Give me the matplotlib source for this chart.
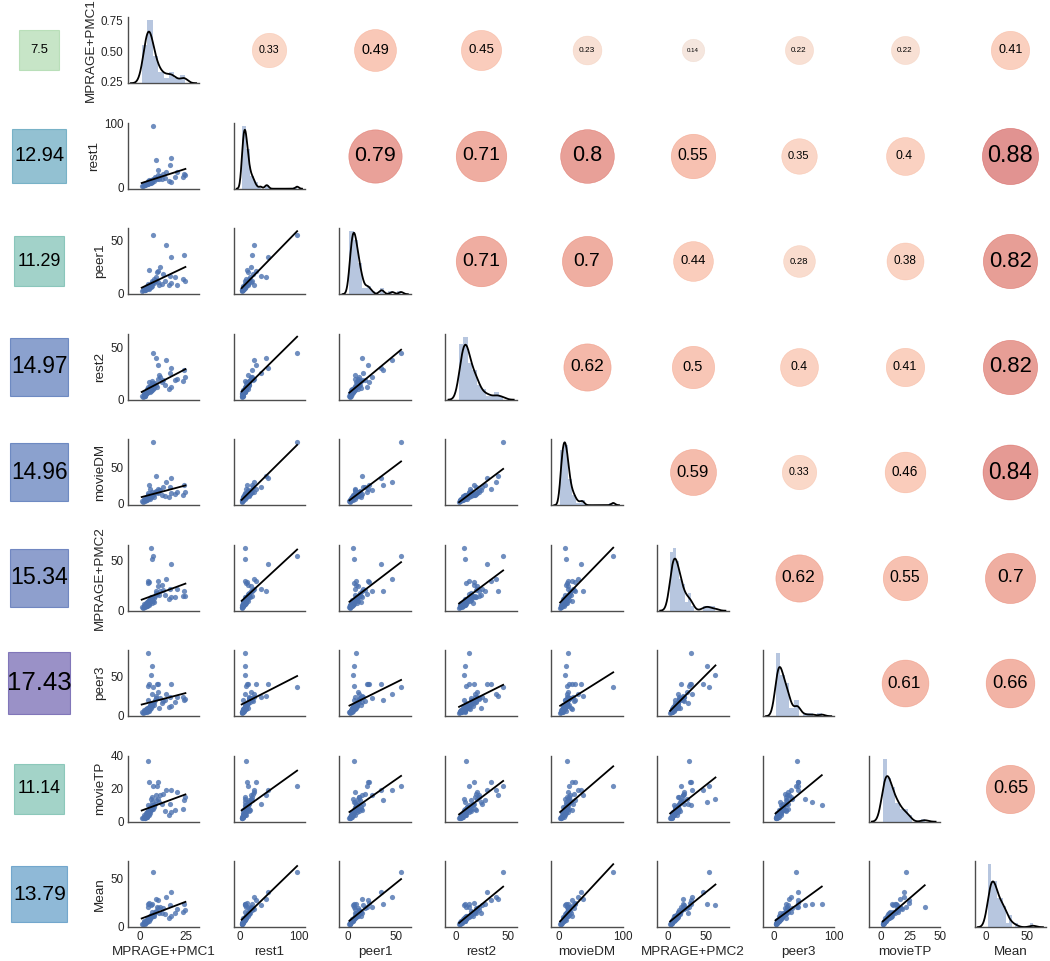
import numpy as np
import matplotlib
matplotlib.use("Agg")
import matplotlib.pyplot as plt
from matplotlib.colors import LinearSegmentedColormap

plt.rcParams['font.family'] = ['Liberation Sans', 'DejaVu Sans']
plt.rcParams['text.color'] = '0.15'
plt.rcParams['axes.labelcolor'] = '0.15'
plt.rcParams['xtick.color'] = '0.15'
plt.rcParams['ytick.color'] = '0.15'

names = ["MPRAGE+PMC1", "rest1", "peer1", "rest2", "movieDM",
         "MPRAGE+PMC2", "peer3", "movieTP", "Mean"]

# one value per subject
mprage_pmc1 = [7.0, 8.7, 17.0, 16.0, 9.8, 14.0, 20.0, 23.5, 23.3, 15.8, 17.0, 4.6,
               4.2, 6.0, 6.5, 9.0, 5.1, 11.0, 13.3, 3.5, 4.0, 4.5, 3.0, 5.5, 6.2,
               2.5, 3.2, 4.8, 5.8, 7.5, 8.2, 3.8, 2.8, 4.3, 6.8, 5.0, 9.5, 12.0,
               3.6, 7.8, 10.5, 1.5, 5.3, 6.4, 18.8, 2.2,
               2.0, 3.4, 4.1, 5.6, 4.7, 6.1, 3.9, 7.2, 2.9, 5.2, 8.8, 24.5, 4.4,
               1.0, 6.6, 12.5]
rest1 = [97, 44, 47, 35, 28, 24, 24, 21, 16, 11, 9.5, 9, 9.7, 8, 9, 13, 12, 18, 15,
         5, 7, 8, 4, 10, 11, 6, 5, 9, 12, 14, 16, 6, 4, 7, 12, 8, 19, 13, 6, 10,
         14, 3, 11, 9, 17, 5,
         4, 6, 8, 9, 7, 10, 5, 13, 6, 8, 15, 20, 6, 3, 11, 22]
peer1 = [55, 15, 34, 16, 21, 46, 8, 36, 14, 8, 10, 9, 7, 6, 7, 20, 22, 25, 12,
         4, 5, 6, 3, 7, 8, 4, 6, 5, 9, 10, 12, 4, 3, 6, 10, 6, 11, 9, 5, 14, 8,
         3, 8, 12, 15, 4,
         3, 5, 7, 6, 4, 9, 5, 11, 3, 8, 13, 12, 7, 2, 10, 18]
rest2 = [45, 40, 30, 25, 33, 38, 20, 28, 18, 10, 12, 12, 10, 8, 9, 12, 17, 22, 14,
         6, 8, 7, 5, 11, 9, 5, 7, 10, 13, 15, 16, 6, 4, 9, 14, 8, 20, 17, 9, 11,
         24, 3, 13, 18, 19, 4,
         6, 5, 10, 7, 9, 12, 7, 10, 4, 11, 14, 22, 8, 4, 16, 19]
movie_dm = [85, 38, 35, 22, 20, 30, 15, 25, 12, 9, 14, 14, 12, 9, 11, 16, 26, 18,
            10, 5, 7, 8, 4, 9, 10, 6, 5, 8, 12, 13, 15, 4, 3, 11, 16, 7, 14, 11, 6,
            9, 19, 2, 20, 13, 13, 5,
            4, 6, 9, 10, 7, 8, 8, 12, 5, 6, 17, 16, 9, 3, 12, 23]
mprage_pmc2 = [55, 20, 47, 22, 30, 32, 22, 20, 15, 12, 14, 30, 28, 63, 52, 17, 29,
               20, 16, 5, 9, 8, 6, 10, 12, 7, 6, 11, 14, 13, 15, 5, 4, 8, 11, 7, 25,
               26, 6, 9, 16, 3, 10, 14, 14, 5,
               4, 8, 7, 9, 6, 13, 5, 10, 6, 12, 18, 15, 10, 4, 8, 21]
peer3 = [37, 25, 40, 24, 41, 28, 24, 19.7, 24, 11.5, 12, 80, 38, 52, 64, 41, 40, 22,
         20, 6, 10, 9, 5, 12, 14, 7, 8, 10, 15, 18, 20, 7, 4, 6, 13, 11, 30, 16, 5,
         13, 10, 3, 9, 28, 17, 6,
         5, 7, 8, 12, 6, 10, 9, 16, 4, 14, 22, 21, 20, 4, 12, 19]
movie_tp = [21.5, 16, 19.5, 11, 24, 19.5, 18, 13, 8, 4, 6, 10, 37, 14, 12, 21.5, 24,
            16, 6.3, 3, 5, 4, 2.5, 7, 8, 4, 5, 6, 9, 10, 11, 3, 2, 5, 8, 6, 14, 11,
            4, 9, 12, 2, 7, 15, 7, 3,
            3, 4, 6, 5, 4, 7, 3, 8, 3, 9, 13, 15, 7, 2, 10, 17]
mean_score = [56.5, 28.3, 36.1, 22.1, 28.1, 31.1, 18.7, 23.2, 15.3, 9.4, 11.1, 23.4,
              20.2, 22.9, 23.4, 20.1, 24.3, 20.1, 13.3, 4.9, 7.3, 7.1, 4.2, 9.4, 10.3,
              5.6, 6.0, 8.4, 12.0, 13.3, 15.0, 5.0, 3.4, 7.4, 12.0, 7.6, 19.0, 14.7,
              5.9, 10.7, 14.7, 2.7, 11.1, 15.6, 14.6, 4.6,
              4.1, 5.9, 7.9, 8.3, 6.1, 9.9, 6.0, 11.4, 4.4, 9.7, 16.0, 17.3, 9.6,
              3.1, 11.3, 19.9]

box_values = [7.5, 12.94, 11.29, 14.97, 14.96, 15.34, 17.43, 11.14, 13.79]

corr_upper = [
    [0.33, 0.49, 0.45, 0.23, 0.14, 0.22, 0.22, 0.41],
    [0.79, 0.71, 0.8, 0.55, 0.35, 0.4, 0.88],
    [0.71, 0.7, 0.44, 0.28, 0.38, 0.82],
    [0.62, 0.5, 0.4, 0.41, 0.82],
    [0.59, 0.33, 0.46, 0.84],
    [0.62, 0.55, 0.7],
    [0.61, 0.66],
    [0.65],
]

x_ticks = [[0, 25], [0, 100], [0, 50], [0, 50], [0, 100], [0, 50], [0, 100],
           [0, 25, 50], [0, 50]]
y_ticks = [[0.25, 0.5, 0.75], [0, 100], [0, 50], [0, 50], [0, 50], [0, 50],
           [0, 50], [0, 20, 40], [0, 50]]
hist_bins = [8, 14, 12, 10, 13, 15, 10, 10, 15]

data = [np.array(v, float) for v in (mprage_pmc1, rest1, peer1, rest2, movie_dm,
                                     mprage_pmc2, peer3, movie_tp, mean_score)]

box_cmap = LinearSegmentedColormap.from_list(
    "boxes", [(0.0, "#91cd91"), (0.373, "#47a793"), (0.548, "#2985a7"),
              (0.633, "#2175b1"), (0.751, "#19459f"), (1.0, "#372591")])
box_norm = plt.Normalize(7.5, 17.43)

blue = "#4c72b0"
W, H = 1050, 961
left0, pitch_x, aw = 127.7, 105.85, 71.7
top0, pitch_y, ah = 17.2, 105.5, 66.0


def rect(left, top, w, h):
    return [left / W, 1 - (top + h) / H, w / W, h / H]


def kde_curve(x):
    n = len(x)
    q75, q25 = np.percentile(x, [75, 25])
    a = min(x.std(ddof=1), (q75 - q25) / 1.349)
    bw = 1.059 * a * n ** (-0.2)
    grid = np.linspace(x.min() - 3 * bw, x.max() + 3 * bw, 300)
    dens = np.exp(-0.5 * ((grid[:, None] - x[None, :]) / bw) ** 2).sum(1)
    return grid, dens / (n * bw * np.sqrt(2 * np.pi))


fig = plt.figure(figsize=(10.5, 9.61), dpi=100)

col_ref = [None] * 9
row_ref = [None] * 9
n = len(names)
for i in range(n):
    top = top0 + i * pitch_y

    # coloured box with the value in the left column
    bax = fig.add_axes(rect(39.5 - aw / 2, top, aw, ah))
    bax.set_axis_off()
    v = box_values[i]
    bax.scatter([0.5], [0.5], s=114.3 * v, marker="s", c=[v], cmap=box_cmap,
                norm=box_norm, alpha=0.5, linewidths=0.8,
                transform=bax.transAxes, clip_on=False)
    bax.text(0.5, 0.5, f"{v:g}", ha="center", va="center", color="black",
             fontsize=0.92 * v + 2.5, transform=bax.transAxes)

    for j in range(n):
        r = rect(left0 + j * pitch_x, top, aw, ah)
        if j > i:
            ax = fig.add_axes(r)
            ax.set_axis_off()
            c = corr_upper[i][j - i - 1]
            ax.scatter([0.5], [0.5], s=1866 * abs(c), c=[c], cmap="coolwarm",
                       vmin=-1, vmax=1, alpha=0.55, linewidths=0.4,
                       transform=ax.transAxes, clip_on=False)
            ax.text(0.5, 0.5, f"{c:g}", ha="center", va="center", color="black",
                    fontsize=(abs(c) * 40 + 5) * 0.42, transform=ax.transAxes)
            continue

        ax = fig.add_axes(r, sharex=col_ref[j],
                          sharey=row_ref[i] if i != j else None)
        if col_ref[j] is None:
            col_ref[j] = ax
        if i != j and row_ref[i] is None:
            row_ref[i] = ax

        if i == j:
            tw = ax.twinx()
            x = data[j]
            tw.hist(x, bins=hist_bins[j], density=True, color=blue, alpha=0.4,
                    linewidth=0)
            g, d = kde_curve(x)
            tw.plot(g, d, color="black", lw=1.3)
            tw.set_ylim(bottom=0)
            tw.set_yticks([])
            for s in tw.spines.values():
                s.set_visible(False)
        else:
            x, y = data[j], data[i]
            ax.scatter(x, y, s=14, color=blue, alpha=0.8, linewidths=0)
            k, b = np.polyfit(x, y, 1)
            xs = np.array([x.min(), x.max()])
            ax.plot(xs, k * xs + b, color="black", lw=1.3)

        for side in ("top", "right"):
            ax.spines[side].set_visible(False)
        for side in ("left", "bottom"):
            ax.spines[side].set_color("0.3")
            ax.spines[side].set_linewidth(1.0)
        ax.tick_params(length=0, labelsize=8.4, pad=3,
                       labelbottom=(i == n - 1), labelleft=(j == 0))
        if i == n - 1:
            ax.set_xlabel(names[j], fontsize=9.7, labelpad=2)
        if j == 0:
            ax.set_ylabel(names[i], fontsize=9.7, labelpad=3)

for j in range(n):
    col_ref[j].set_xticks(x_ticks[j])
for i in range(1, n):
    row_ref[i].set_yticks(y_ticks[i])
col_ref[0].set_ylim(0.24, 0.775)
col_ref[0].set_yticks(y_ticks[0])

fig.savefig("out.png", dpi=100)
